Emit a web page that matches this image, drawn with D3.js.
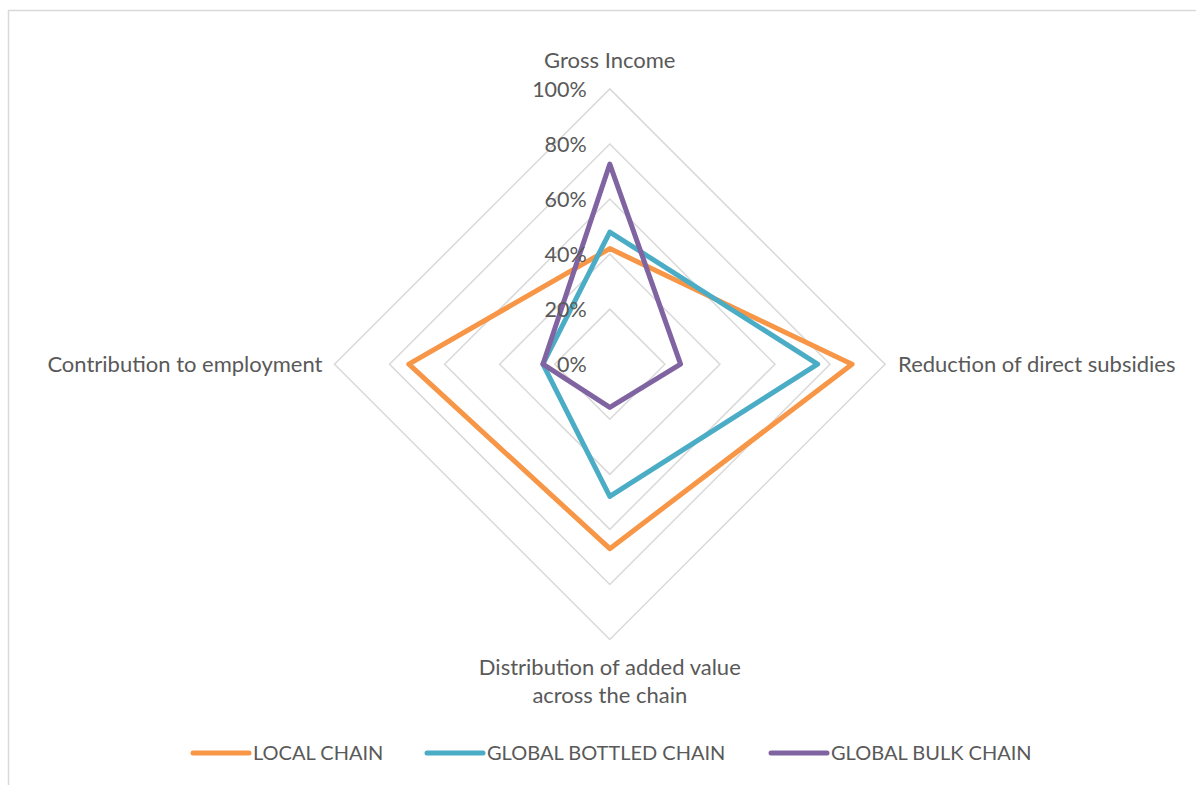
<!DOCTYPE html>
<html>
<head>
<meta charset="utf-8">
<script src="https://cdn.jsdelivr.net/npm/d3@7"></script>
<style>
  html, body { margin: 0; padding: 0; background: #fff; }
  svg { display: block; }
  text { font-family: Lato, "Open Sans", sans-serif; fill: #595959; }
</style>
</head>
<body>
<svg id="chart" width="1196" height="785"></svg>
<script>
// Radar axes, clockwise from the top
const axes = [
  ["Gross Income"],
  ["Reduction of direct subsidies"],
  ["Distribution of added value", "across the chain"],
  ["Contribution to employment"]
];
const ticks = [0, 0.2, 0.4, 0.6, 0.8, 1.0];
const seriesNames = ["LOCAL CHAIN", "GLOBAL BOTTLED CHAIN", "GLOBAL BULK CHAIN"];
const localChain   = [0.42, 0.88, 0.67, 0.73];
const bottledChain = [0.48, 0.755, 0.48, 0.243];
const bulkChain    = [0.727, 0.257, 0.157, 0.243];
const seriesColors = ["#F79646", "#4BACC6", "#8064A2"];

const series = [localChain, bottledChain, bulkChain];

const svg = d3.select("#chart");
const cx = 609.8, cy = 364.2;
const r = d3.scaleLinear().domain([0, 1]).range([0, 275.3]);
const angle = d3.scaleLinear().domain([0, axes.length]).range([0, 2 * Math.PI]);

// chart area border
svg.append("rect")
  .attr("x", 8.5).attr("y", 10.5)
  .attr("width", 1300).attr("height", 900)
  .attr("fill", "none").attr("stroke", "#d9d9d9").attr("stroke-width", 1.5);

const g = svg.append("g").attr("transform", `translate(${cx},${cy})`);

const radial = d3.lineRadial()
  .angle((d, i) => angle(i))
  .radius(d => r(d))
  .curve(d3.curveLinearClosed);

// grid rings
g.selectAll("path.ring")
  .data(ticks.filter(t => t > 0))
  .join("path")
  .attr("class", "ring")
  .attr("d", t => radial(axes.map(() => t)))
  .attr("fill", "none")
  .attr("stroke", "#d9d9d9")
  .attr("stroke-width", 1.5);

// series polygons
g.selectAll("path.series")
  .data(series)
  .join("path")
  .attr("class", "series")
  .attr("d", d => radial(d))
  .attr("fill", "none")
  .attr("stroke", (d, i) => seriesColors[i])
  .attr("stroke-width", 5)
  .attr("stroke-linejoin", "round");

// tick labels along the top axis
g.selectAll("text.tick")
  .data(ticks)
  .join("text")
  .attr("class", "tick")
  .attr("x", -23)
  .attr("y", t => -r(t))
  .attr("dy", "0.36em")
  .attr("text-anchor", "end")
  .attr("font-size", 21.5)
  .text(d3.format(".0%"));

// axis labels
const labelPos = [
  { x: 0, y: -r(1) - 29, anchor: "middle" },
  { x: r(1) + 13, y: 0, anchor: "start" },
  { x: 0, y: r(1) + 28, anchor: "middle" },
  { x: -r(1) - 12, y: 0, anchor: "end" }
];
axes.forEach((lines, i) => {
  const p = labelPos[i];
  const t = g.append("text")
    .attr("x", p.x).attr("y", p.y)
    .attr("text-anchor", p.anchor)
    .attr("font-size", 22);
  lines.forEach((line, j) => {
    t.append("tspan")
      .attr("x", p.x)
      .attr("dy", j === 0 ? "0.36em" : 28)
      .text(line);
  });
});

// legend
const legendX = [193, 427, 771];
const legend = svg.append("g");
seriesNames.forEach((name, i) => {
  legend.append("line")
    .attr("x1", legendX[i]).attr("x2", legendX[i] + 56)
    .attr("y1", 753).attr("y2", 753)
    .attr("stroke", seriesColors[i])
    .attr("stroke-width", 5)
    .attr("stroke-linecap", "round");
  legend.append("text")
    .attr("x", legendX[i] + 60).attr("y", 753)
    .attr("dy", "0.36em")
    .attr("font-size", 20)
    .text(name);
});
</script>
</body>
</html>
